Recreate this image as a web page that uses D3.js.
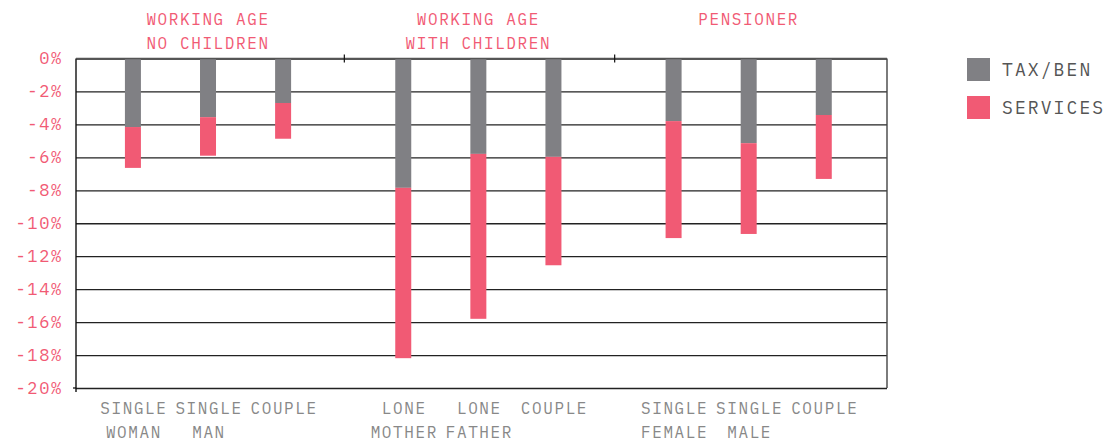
<!DOCTYPE html>
<html>
<head>
<meta charset="utf-8">
<script src="https://cdn.jsdelivr.net/npm/d3@7"></script>
<style>
  body { margin: 0; background: #fff; }
  svg text { font-family: "IBM Plex Mono", "Liberation Mono", monospace; }
</style>
</head>
<body>
<svg id="chart" width="1114" height="441"></svg>
<script>
// groups and their households
const groups = [
  { name: 'WORKING AGE NO CHILDREN', header: ['WORKING AGE', 'NO CHILDREN'] },
  { name: 'WORKING AGE WITH CHILDREN', header: ['WORKING AGE', 'WITH CHILDREN'] },
  { name: 'PENSIONER', header: ['PENSIONER'] }
];
const households = [
  { group: 'WORKING AGE NO CHILDREN', key: 'SW', label: ['SINGLE', 'WOMAN'] },
  { group: 'WORKING AGE NO CHILDREN', key: 'SM', label: ['SINGLE', 'MAN'] },
  { group: 'WORKING AGE NO CHILDREN', key: 'C', label: ['COUPLE'] },
  { group: 'WORKING AGE WITH CHILDREN', key: 'LM', label: ['LONE', 'MOTHER'] },
  { group: 'WORKING AGE WITH CHILDREN', key: 'LF', label: ['LONE', 'FATHER'] },
  { group: 'WORKING AGE WITH CHILDREN', key: 'C', label: ['COUPLE'] },
  { group: 'PENSIONER', key: 'SF', label: ['SINGLE', 'FEMALE'] },
  { group: 'PENSIONER', key: 'SM', label: ['SINGLE', 'MALE'] },
  { group: 'PENSIONER', key: 'C', label: ['COUPLE'] }
];

// percentage change
const taxBen   = [-4.16, -3.56, -2.70, -7.85, -5.79, -5.97, -3.80, -5.14, -3.43];
const services = [-2.48, -2.34, -2.17, -10.34, -10.01, -6.58, -7.10, -5.51, -3.88];

const yTicks = [0, -2, -4, -6, -8, -10, -12, -14, -16, -18, -20];
const seriesNames = ['TAX/BEN', 'SERVICES'];
const colors = { 'TAX/BEN': '#808084', 'SERVICES': '#f15a74' };
const pink = '#f15a74';

const svg = d3.select('#chart');
const margin = { top: 58.5, left: 76, right: 227, bottom: 53 };
const width = 1114 - margin.left - margin.right;
const height = 441 - margin.top - margin.bottom;

const g = svg.append('g').attr('transform', `translate(${margin.left},${margin.top})`);

// scales
const x0 = d3.scaleBand().domain(groups.map(d => d.name)).range([0, width]).padding(0);
const x1 = d3.scaleBand().domain([0, 1, 2]).range([0, x0.bandwidth()])
  .paddingInner(0).paddingOuter(0.3).align(0.43);
const y = d3.scaleLinear().domain([-20, 0]).range([height, 0]);
const barW = 16;

// data rows, stacked downward from zero
const rows = households.map((h, i) => {
  const idx = households.filter(d => d.group === h.group).indexOf(h);
  return {
    ...h,
    cx: x0(h.group) + x1(idx) + x1.bandwidth() / 2,
    segs: [
      { series: 'TAX/BEN', y0: 0, y1: taxBen[i] },
      { series: 'SERVICES', y0: taxBen[i], y1: taxBen[i] + services[i] }
    ]
  };
});

// gridlines + y labels
const yAxis = g.append('g')
  .call(d3.axisLeft(y).tickValues(yTicks).tickSize(-width).tickPadding(13)
    .tickFormat(d => d + '%'));
yAxis.select('.domain').remove();
yAxis.selectAll('.tick line').attr('stroke', '#222').attr('stroke-width', 1.3);
yAxis.selectAll('.tick text')
  .attr('fill', pink).attr('font-size', 17).attr('letter-spacing', 1.7);

// bars
g.selectAll('.hh')
  .data(rows)
  .enter().append('g')
  .attr('class', 'hh')
  .selectAll('rect')
  .data(d => d.segs.map(s => ({ ...s, cx: d.cx })))
  .enter().append('rect')
  .attr('x', d => d.cx - barW / 2)
  .attr('width', barW)
  .attr('y', d => y(d.y0))
  .attr('height', d => y(d.y1) - y(d.y0))
  .attr('fill', d => colors[d.series]);

// frame
g.append('line').attr('x1', 0).attr('x2', 0).attr('y1', 0).attr('y2', height + 4)
  .attr('stroke', '#111').attr('stroke-width', 1.4);
g.append('line').attr('x1', -3).attr('x2', 0).attr('y1', height).attr('y2', height)
  .attr('stroke', '#111').attr('stroke-width', 1.3);
g.append('line').attr('x1', width).attr('x2', width).attr('y1', 0).attr('y2', height)
  .attr('stroke', '#444').attr('stroke-width', 1.4);
g.append('line').attr('x1', 0).attr('x2', width).attr('y1', 0).attr('y2', 0)
  .attr('stroke', '#555').attr('stroke-width', 1.4);

// group separator ticks on zero line
g.selectAll('.sep')
  .data(groups.slice(1))
  .enter().append('line')
  .attr('x1', d => x0(d.name) - 2).attr('x2', d => x0(d.name) - 2)
  .attr('y1', -4).attr('y2', 4)
  .attr('stroke', '#111').attr('stroke-width', 1.2);

// group headers
groups.forEach(gr => {
  const cx = x0(gr.name) + x1(1) + x1.bandwidth() / 2;
  const t = svg.append('text')
    .attr('text-anchor', 'middle')
    .attr('fill', pink)
    .attr('font-size', 16)
    .attr('letter-spacing', 1.6);
  gr.header.forEach((line, i) => {
    t.append('tspan')
      .attr('x', margin.left + cx)
      .attr('y', 25 + i * 24)
      .text(line);
  });
});

// x labels
rows.forEach(r => {
  const t = svg.append('text')
    .attr('text-anchor', 'middle')
    .attr('fill', '#888')
    .attr('font-size', 16)
    .attr('letter-spacing', 1.6);
  r.label.forEach((line, i) => {
    t.append('tspan')
      .attr('x', margin.left + r.cx + 1)
      .attr('y', 414 + i * 24)
      .text(line);
  });
});

// legend
const legend = svg.append('g').attr('transform', 'translate(967,58)');
seriesNames.forEach((s, i) => {
  legend.append('rect')
    .attr('x', 0).attr('y', i * 38)
    .attr('width', 23).attr('height', 23)
    .attr('fill', colors[s]);
  legend.append('text')
    .attr('x', 35).attr('y', i * 38 + 18)
    .attr('fill', '#555')
    .attr('font-size', 18)
    .attr('letter-spacing', 2.1)
    .text(s);
});
</script>
</body>
</html>
